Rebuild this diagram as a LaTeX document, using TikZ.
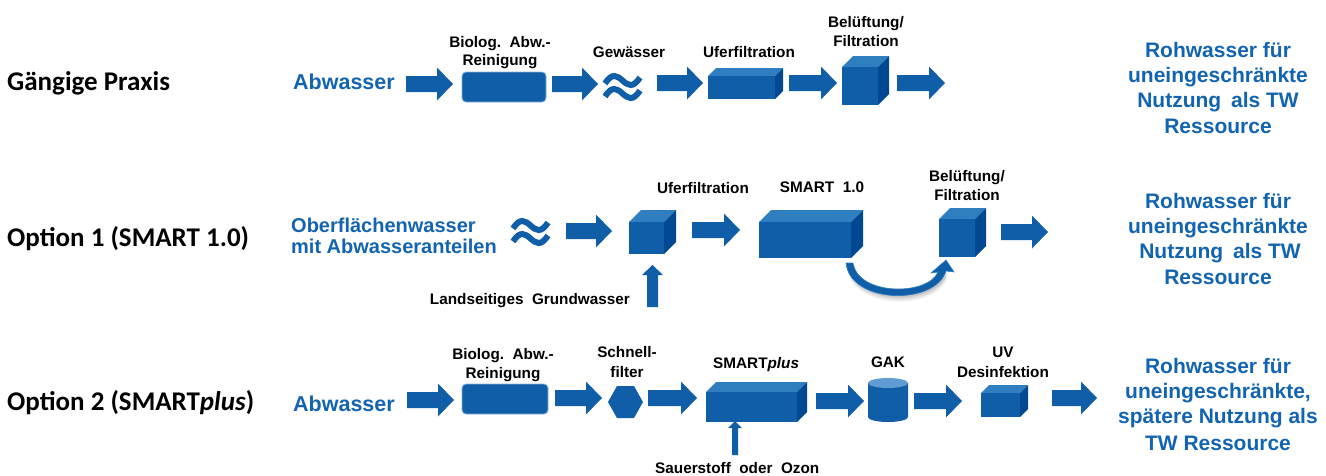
\documentclass[tikz,border=0pt]{standalone}
\usepackage{fontspec}
\setmainfont{Liberation Sans}
\newfontfamily\calfont{Carlito}

\definecolor{wblue}{RGB}{16,94,168}
\definecolor{wlight}{RGB}{46,126,192}
\definecolor{wdark}{RGB}{0,72,146}
\definecolor{wtext}{RGB}{18,100,176}
\definecolor{wtop}{RGB}{96,155,210}

\tikzset{
  rowlabel/.style={anchor=base west, inner sep=0, font=\calfont\bfseries\fontsize{27}{32}\selectfont},
  source/.style={anchor=base west, inner sep=0, text=wtext, font=\bfseries\fontsize{21.5}{26}\selectfont},
  steplabel/.style={anchor=base, inner sep=0, font=\bfseries\fontsize{15.3}{18}\selectfont},
  goal/.style={anchor=base, inner sep=0, text=wtext, font=\bfseries\fontsize{21}{25}\selectfont},
  front/.style={fill=wblue, draw=none, inner sep=0, outer sep=0},
  tank/.style={fill=wblue, draw=wlight!60!white, line width=0.8pt, rounded corners=4pt},
}

% block arrow: name, left x, tip x, centre y
\newcommand\blockarrow[4]{%
  \fill[wblue] (#2,#4-8) -- (#3-16,#4-8) -- (#3-16,#4-16.5) -- (#3,#4)
    -- (#3-16,#4+16.5) -- (#3-16,#4+8) -- (#2,#4+8) -- cycle;
  \coordinate (#1) at (#3,#4);}

% box in perspective: name, left x, top y, right x, bottom y, depth
\newcommand\boxblock[6]{%
  \fill[wlight] (#2,#3) -- (#2+#6,#3-#6) -- (#4+#6,#3-#6) -- (#4,#3) -- cycle;
  \fill[wdark] (#4,#3) -- (#4+#6,#3-#6) -- (#4+#6,#5-#6) -- (#4,#5) -- cycle;
  \node[front, anchor=north west, minimum width=#4-#2, minimum height=#5-#3] (#1) at (#2,#3) {};}

% water sign: name, left x, centre y
\newcommand\watersign[3]{%
  \foreach \dy in {-6.5,6.5}{%
    \draw[wblue, line width=6pt]
      (#2,#3+\dy+3) .. controls (#2+7,#3+\dy-8) and (#2+12,#3+\dy-5) .. (#2+17.5,#3+\dy)
      .. controls (#2+23,#3+\dy+5) and (#2+28,#3+\dy+8) .. (#2+35,#3+\dy-3);}
  \coordinate (#1) at (#2+17.5,#3);}

\begin{document}
\begin{tikzpicture}[x=1pt, y=-1pt]
\useasboundingbox (0,0) rectangle (1326,475);

% ---------------- row labels ----------------
\node[rowlabel] (r1) at (7,90) {Gängige Praxis};
\node[rowlabel] (r2) at (7,246) {Option 1 (SMART 1.0)};
\node[rowlabel] (r3) at (7,410) {Option 2 (SMART\textit{plus})};

% ---------------- Gängige Praxis ----------------
\node[source] (a1) at (293,89) {Abwasser};
\blockarrow{p1}{406}{453}{84}
\node[tank, minimum width=84pt, minimum height=30pt, inner sep=0] (bio1) at (504,87) {};
\node[steplabel] (bio1t) at (500,47) {Biolog.\ \ Abw.-};
\node[steplabel] (bio1b) at (500,65) {Reinigung};
\blockarrow{p2}{552}{598}{84}
\watersign{gw1}{605}{87}
\node[steplabel] (gw1t) at (629,57) {Gewässer};
\blockarrow{p3}{657}{703}{83}
\boxblock{uf1}{708}{76}{775}{99}{8}
\node[steplabel] (uf1t) at (749,57) {Uferfiltration};
\blockarrow{p4}{789}{837}{83}
\boxblock{bf1}{842}{67}{878}{105}{11}
\node[steplabel] (bf1t) at (866,27) {Belüftung/};
\node[steplabel] (bf1b) at (866,46) {Filtration};
\blockarrow{p5}{897}{945}{83}

\node[goal] (g1a) at (1218,57) {Rohwasser für};
\node[goal] (g1b) at (1218,82) {uneingeschränkte};
\node[goal] (g1c) at (1218,107) {Nutzung\hspace{4pt} als TW};
\node[goal] (g1d) at (1218,133) {Ressource};

% ---------------- Option 1 ----------------
\node[source, font=\bfseries\fontsize{20}{24}\selectfont] (a2) at (291,232) {Oberflächenwasser};
\node[source, font=\bfseries\fontsize{20}{24}\selectfont] (a2b) at (291,253) {mit Abwasseranteilen};
\watersign{gw2}{513}{232}
\blockarrow{q1}{566}{612}{231}
\boxblock{uf2}{629}{222}{664}{254}{12}
\node[steplabel] (uf2t) at (703,193) {Uferfiltration};
\fill[wblue] (647,307) -- (647,275) -- (642,275) -- (652.5,265) -- (663,275) -- (658,275) -- (658,307) -- cycle;
\coordinate (gwin) at (652.5,265);
\node[steplabel, anchor=base east] (lg) at (630,304) {Landseitiges\ \ Grundwasser};
\blockarrow{q2}{692}{740}{230}
\boxblock{sm1}{759}{222}{851}{258}{12}
\node[steplabel] (sm1t) at (822,192) {SMART\ \ 1.0};
% return bend with soft shadow
\foreach \s/\o in {6/0.06,4/0.08,2/0.10}{%
  \fill[black, opacity=\o, shift={(1.5,\s)}]
    (846,263) .. controls (850,304) and (935,306) .. (946,271)
    -- (938,272) .. controls (928,296) and (858,296) .. (853,263) -- cycle;}
\fill[wblue, draw=wlight, line width=0.6pt]
  (846,263) .. controls (850,304) and (935,306) .. (946,271)
  -- (954,272) -- (946,260) -- (931,273) -- (938,272)
  .. controls (928,296) and (858,296) .. (853,263) -- cycle;
\boxblock{bf2}{939}{219}{975}{257}{11}
\node[steplabel] (bf2t) at (967,181) {Belüftung/};
\node[steplabel] (bf2b) at (967,200) {Filtration};
\blockarrow{q3}{1001}{1048}{232}

\node[goal] (g2a) at (1218,208) {Rohwasser für};
\node[goal] (g2b) at (1218,233) {uneingeschränkte};
\node[goal] (g2c) at (1220,258) {Nutzung\hspace{4pt} als TW};
\node[goal] (g2d) at (1218,284) {Ressource};

% ---------------- Option 2 ----------------
\node[source] (a3) at (293,411) {Abwasser};
\blockarrow{s1}{407}{454}{400}
\node[tank, minimum width=86pt, minimum height=30pt, inner sep=0] (bio3) at (505,399) {};
\node[steplabel] (bio3t) at (503,359) {Biolog.\ \ Abw.-};
\node[steplabel] (bio3b) at (503,378) {Reinigung};
\blockarrow{s2}{555}{602}{398}
\fill[wblue] (608,402) -- (617,386) -- (634,386) -- (643,402) -- (634,418) -- (617,418) -- cycle;
\coordinate (sf) at (625.5,402);
\node[steplabel] (sft) at (627,357) {Schnell-};
\node[steplabel] (sfb) at (627,377) {filter};
\blockarrow{s3}{648}{697}{398}
\boxblock{smp}{706}{392}{797}{422}{10}
\node[steplabel, anchor=base west] (smpt) at (713,368) {SMART\textit{plus}};
\fill[wblue] (732,455) -- (732,428) -- (728,428) -- (735,421) -- (742,428) -- (738,428) -- (738,455) -- cycle;
\coordinate (o3in) at (735,421);
\node[steplabel, anchor=base west] (o3) at (655,473) {Sauerstoff\ \ oder\ \ Ozon};
\blockarrow{s4}{816}{864}{401}
% activated carbon vessel
\fill[wblue] (868,383) -- (868,417) arc[start angle=180, end angle=360, x radius=20, y radius=-5] -- (908,383) -- cycle;
\fill[wtop] (888,383) ellipse[x radius=20, y radius=5];
\coordinate (gak) at (888,400);
\node[steplabel] (gakt) at (888,367) {GAK};
\blockarrow{s5}{914}{962}{401}
\boxblock{uv}{981}{393}{1020}{417}{8}
\node[steplabel] (uvt) at (1003,357) {UV};
\node[steplabel] (uvb) at (1003,377) {Desinfektion};
\blockarrow{s6}{1052}{1097}{398}

\node[goal] (g3a) at (1218,373) {Rohwasser für};
\node[goal] (g3b) at (1218,398) {uneingeschränkte,};
\node[goal] (g3c) at (1218,423) {spätere Nutzung als};
\node[goal] (g3d) at (1218,450) {TW Ressource};
\end{tikzpicture}
\end{document}
